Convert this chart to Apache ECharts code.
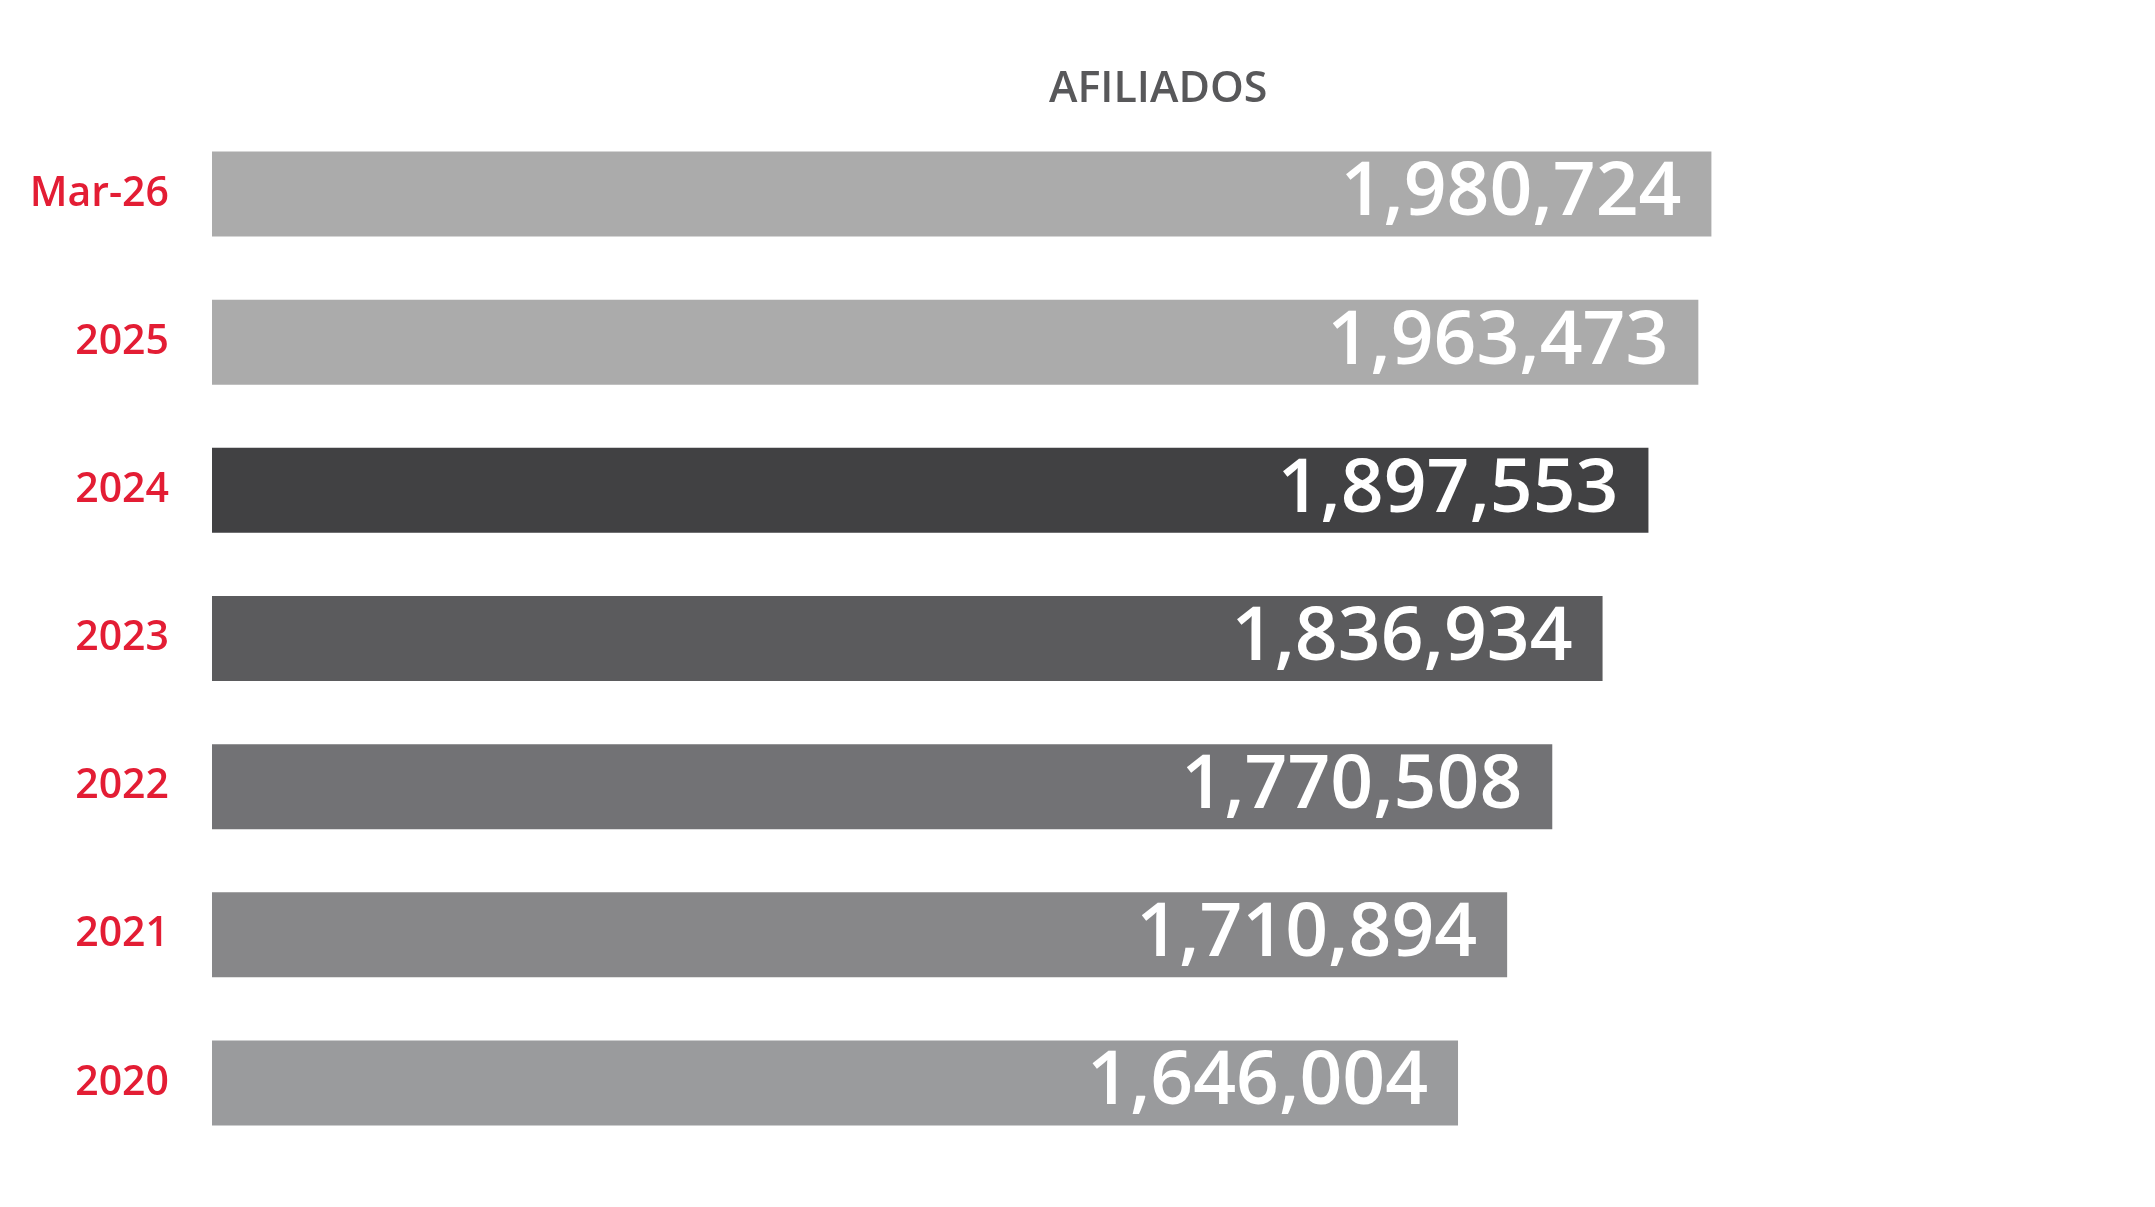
<!DOCTYPE html>
<html>
<head>
<meta charset="utf-8">
<title>Afiliados</title>
<script src="https://cdn.jsdelivr.net/npm/echarts@6/dist/echarts.min.js"></script>
<style>
  html, body { margin: 0; padding: 0; background: #fff; }
  #chart { width: 2155px; height: 1207px; }
</style>
</head>
<body>
<div id="chart"></div>
<script>
// datos (de arriba hacia abajo)
const periods = ["Mar-26", "2025", "2024", "2023", "2022", "2021", "2020"];
const afiliados = [1980724, 1963473, 1897553, 1836934, 1770508, 1710894, 1646004];
const barColors = ["#ababab", "#ababab", "#414143", "#5b5b5d", "#727275", "#878789", "#9a9b9d"];

const chart = echarts.init(document.getElementById("chart"));

const fmt = (n) => n.toLocaleString("en-US");

chart.setOption({
  animation: false,
  title: {
    text: "AFILIADOS",
    left: 1044,
    top: 63,
    textStyle: {
      fontFamily: "Open Sans",
      fontSize: 43,
      fontWeight: 600,
      color: "#58585a",
    },
  },
  grid: { left: 212, width: 1514, top: 120, height: 1037 },
  xAxis: {
    type: "value",
    min: 0,
    max: 2000000,
    show: false,
  },
  yAxis: {
    type: "category",
    data: periods,
    inverse: true,
    axisLine: { show: false },
    axisTick: { show: false },
    axisLabel: {
      margin: 43,
      fontFamily: "Open Sans",
      fontSize: 41,
      fontWeight: 600,
      color: "#e31d34",
    },
  },
  series: [
    {
      type: "bar",
      data: afiliados.map((v, i) => ({
        value: v,
        itemStyle: { color: barColors[i] },
      })),
      barCategoryGap: "42.6%",
      label: {
        show: true,
        position: "insideRight",
        distance: 30,
        formatter: (p) => fmt(p.value),
        fontFamily: "Open Sans",
        fontSize: 75,
        fontWeight: 600,
        color: "#ffffff",
      },
    },
  ],
});
</script>
</body>
</html>
